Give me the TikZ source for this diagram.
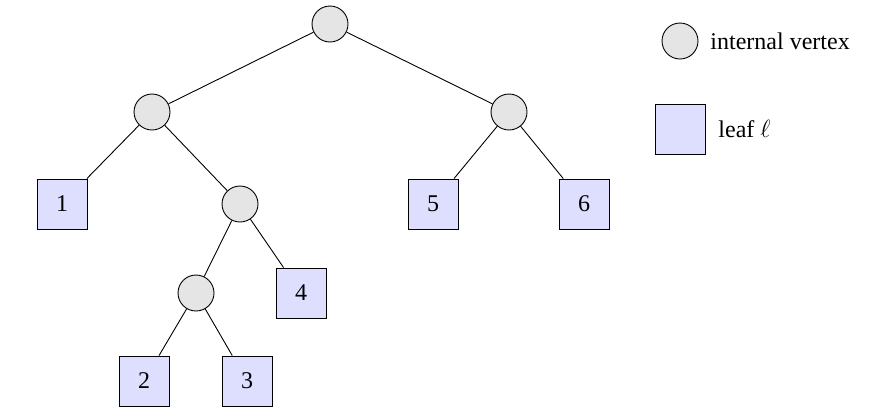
\documentclass[tikz,border=0pt]{standalone}
\usepackage{fontspec}
\setmainfont{Liberation Serif}
\begin{document}
\begin{tikzpicture}[x=1pt,y=-1pt,line width=0.9pt,
  iv/.style={circle,draw,fill=black!10,minimum size=36pt,inner sep=0pt},
  lf/.style={rectangle,draw,fill=blue!13,minimum size=50pt,inner sep=0pt,font=\fontsize{24}{26}\selectfont},
  lbl/.style={anchor=west,font=\fontsize{24}{26}\selectfont,inner sep=0pt}]
\useasboundingbox (0,0) rectangle (882,416);
\node[iv] (r) at (330,24) {};
\node[iv] (a) at (152,112) {};
\node[iv] (b) at (509,112) {};
\node[lf] (l1) at (62,204) {1};
\node[iv] (c) at (240,204) {};
\node[iv] (d) at (196,293) {};
\node[lf] (l4) at (301,293) {4};
\node[lf] (l2) at (144,381) {2};
\node[lf] (l3) at (247,381) {3};
\node[lf] (l5) at (433,204) {5};
\node[lf] (l6) at (584,204) {6};
\draw (r)--(a) (r)--(b) (a)--(l1) (a)--(c) (c)--(d) (c)--(l4) (d)--(l2) (d)--(l3) (b)--(l5) (b)--(l6);
\node[iv] (k1) at (680,41) {};
\node[lbl] (t1) at (710,41) {internal vertex};
\node[lf] (k2) at (680,129) {};
\node[lbl] (t2) at (718,129) {leaf $\ell$};
\end{tikzpicture}
\end{document}
